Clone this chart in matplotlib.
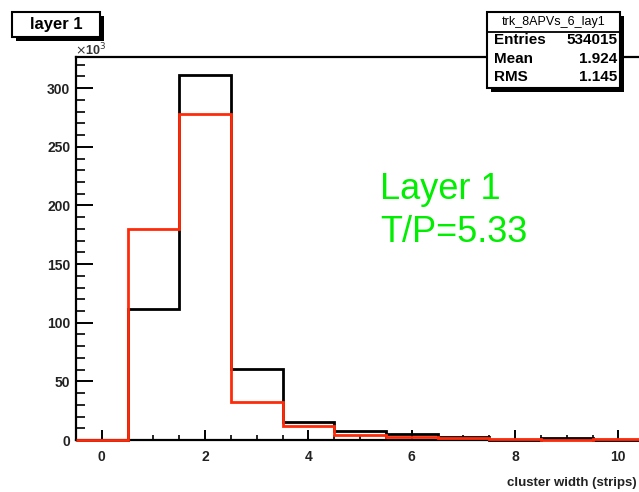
import matplotlib
matplotlib.use("Agg")
import matplotlib.pyplot as plt
from matplotlib.patches import Rectangle
import numpy as np

# ---- data (values in units of 10^3) ----
bin_edges = [-0.5, 0.5, 1.5, 2.5, 3.5, 4.5, 5.5, 6.5, 7.5, 8.5, 9.5, 10.5]
black_counts = [0, 112, 311, 60.5, 15.6, 8, 5, 2.8, 0.3, 2.0, 0]
red_counts = [0, 180, 278, 32, 12, 4.3, 2.5, 1.5, 1.0, 0.3, 0.6]
x_ticks = [0, 2, 4, 6, 8, 10]
y_ticks = [0, 50, 100, 150, 200, 250, 300]
title_text = "layer 1"
stats_name = "trk_8APVs_6_lay1"
stats_rows = [("Entries", "534015"), ("Mean", "1.924"), ("RMS", "1.145")]
note_lines = ["Layer 1", "T/P=5.33"]
x_label = "cluster width (strips)"

W, H = 639, 492
plt.rcParams['font.family'] = ['Liberation Sans', 'DejaVu Sans']
fig = plt.figure(figsize=(W / 100, H / 100), dpi=100)
fig.patch.set_facecolor('white')

def fx(px):
    return px / W

def fy(py):
    return 1 - py / H

ax_left, ax_right, ax_top, ax_bottom = 76, 644.2, 57, 440
ax = fig.add_axes([fx(ax_left), fy(ax_bottom), fx(ax_right - ax_left), (ax_bottom - ax_top) / H])
ax.set_xlim(-0.5, 10.5)
ax.set_ylim(0, 326.6)

ax.stairs(black_counts, bin_edges, color='black', lw=2.0, clip_on=False, zorder=3)
ax.stairs(red_counts, bin_edges, color='#ff2a0a', lw=2.0, clip_on=False, zorder=4)

for sp in ax.spines.values():
    sp.set_linewidth(1.6)
    sp.set_color('black')

ax.set_xticks(x_ticks)
ax.set_xticks(np.arange(-0.5, 10.51, 0.5), minor=True)
ax.set_yticks(y_ticks)
ax.set_yticks(np.arange(0, 326, 10), minor=True)
ax.tick_params(axis='x', which='major', direction='in', length=7.5, width=1.4, pad=7, labelsize=10)
ax.tick_params(axis='x', which='minor', direction='in', length=3.5, width=1.2)
ax.tick_params(axis='y', which='major', direction='in', length=12.5, width=1.4, pad=4, labelsize=10)
ax.tick_params(axis='y', which='minor', direction='in', length=6.5, width=1.2)
for lab in ax.get_xticklabels() + ax.get_yticklabels():
    lab.set_fontweight('bold')
    lab.set_color('#222222')

# x10^3 multiplier
fig.text(fx(75), fy(55), r"$\times$10$^{3}$", fontsize=9, fontweight='bold', color='#333333',
         ha='left', va='baseline')

# x label
fig.text(fx(637), fy(477), x_label, fontsize=9.5, fontweight='bold', ha='right', va='top', color='#222222')

# green annotation
fig.text(fx(380), fy(199), note_lines[0], fontsize=26, color='#00ee00', ha='left', va='baseline')
fig.text(fx(380), fy(242), note_lines[1], fontsize=26, color='#00ee00', ha='left', va='baseline')

def shadow_box(x0, y0, x1, y1, off=3.5):
    fig.patches.append(Rectangle((fx(x0 + off), fy(y1 + off)), fx(x1 - x0), (y1 - y0) / H,
                                 transform=fig.transFigure, facecolor='black', edgecolor='black', lw=0, zorder=5))
    fig.patches.append(Rectangle((fx(x0), fy(y1)), fx(x1 - x0), (y1 - y0) / H,
                                 transform=fig.transFigure, facecolor='white', edgecolor='black', lw=1.5, zorder=6))

# title box
shadow_box(12, 12, 100, 37)
fig.text(fx(56), fy(24.5), title_text, fontsize=12, fontweight='bold', ha='center', va='center', zorder=7)

# stats box
shadow_box(487, 12, 620, 88, off=4)
fig.add_artist(plt.Line2D([fx(487), fx(620)], [fy(32), fy(32)], transform=fig.transFigure, color='black', lw=1.3, zorder=7))
fig.text(fx(553.5), fy(22), stats_name, fontsize=9, ha='center', va='center', zorder=7)
row_y = [40, 59, 77]
for (k, v), yy in zip(stats_rows, row_y):
    fig.text(fx(494), fy(yy), k, fontsize=11, fontweight='bold', ha='left', va='center', zorder=7)
    fig.text(fx(617), fy(yy), v, fontsize=11, fontweight='bold', ha='right', va='center', zorder=7)

fig.savefig("out.png", dpi=100, facecolor='white')
